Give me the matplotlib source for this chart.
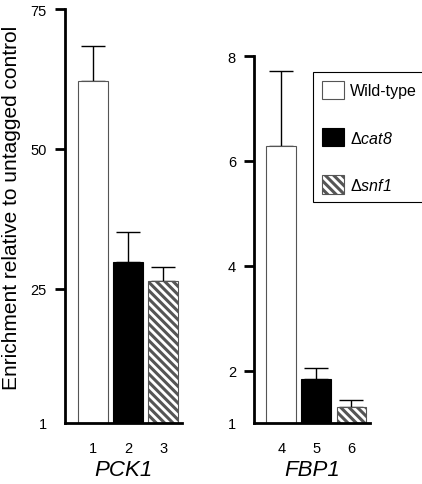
import numpy as np
import matplotlib
matplotlib.use('Agg')
import matplotlib.pyplot as plt
from matplotlib.patches import Patch

plt.rcParams['font.family'] = 'Liberation Sans'
plt.rcParams['mathtext.fontset'] = 'custom'
plt.rcParams['mathtext.rm'] = 'Liberation Sans'
plt.rcParams['mathtext.sf'] = 'Liberation Sans:italic'  # italic digits too
plt.rcParams['hatch.linewidth'] = 2.2

# data
pck1_pos = [1, 2, 3]
pck1_vals = [62.1, 29.7, 26.3]
pck1_err = [6.3, 5.5, 2.6]

fbp1_pos = [1, 2, 3]
fbp1_vals = [6.29, 1.84, 1.30]
fbp1_err = [1.43, 0.21, 0.13]

pck1_ticklabels = ['1', '2', '3']
fbp1_ticklabels = ['4', '5', '6']
pck1_yticks = [1, 25, 50, 75]
fbp1_yticks = [1, 2, 4, 6, 8]

labels = ['Wild-type', r'$\Delta\mathsf{cat8}$', r'$\Delta\mathsf{snf1}$']
faces = ['white', 'black', 'white']
edges = ['#555555', 'black', '#555555']
hatches = ['', '', '\\\\\\\\']

fig = plt.figure(figsize=(4.22, 4.85), dpi=100)
ax1 = fig.add_axes([65/422, 1-424/485, 117/422, 414/485])
ax2 = fig.add_axes([254/422, 1-424/485, 116/422, 367/485])


def draw(ax, pos, vals, err, ticklabels, yticks, ylim, gene):
    for i in range(3):
        ax.bar(pos[i], vals[i] - ylim[0], bottom=ylim[0], width=0.85,
               color=faces[i], edgecolor=edges[i], linewidth=0.8,
               hatch=hatches[i], zorder=2)
    ax.errorbar(pos, vals, yerr=[np.zeros(3), err], fmt='none',
                ecolor='black', elinewidth=1.0, capsize=8.3, capthick=1.0,
                zorder=1)
    ax.set_xlim(0.22, 3.53)
    ax.set_ylim(*ylim)
    ax.set_xticks(pos)
    ax.set_xticklabels(ticklabels, fontsize=10.5)
    ax.tick_params(axis='x', length=0, pad=13)
    ax.set_yticks(yticks)
    ax.set_yticklabels([str(t) for t in yticks], fontsize=10.5)
    ax.tick_params(axis='y', length=7, width=2, direction='out', pad=6)
    ax.yaxis.get_major_ticks()[0].tick1line.set_visible(False)
    for s in ['top', 'right']:
        ax.spines[s].set_visible(False)
    for s in ['left', 'bottom']:
        ax.spines[s].set_linewidth(2)
    ax.set_xlabel(gene, fontsize=16, style='italic', labelpad=3)


draw(ax1, pck1_pos, pck1_vals, pck1_err, pck1_ticklabels, pck1_yticks, (1, 75), 'PCK1')
draw(ax2, fbp1_pos, fbp1_vals, fbp1_err, fbp1_ticklabels, fbp1_yticks, (1, 8), 'FBP1')

fig.text(12/422, 1-208/485, 'Enrichment relative to untagged control',
         rotation=90, fontsize=15, ha='center', va='center')

handles = [Patch(facecolor=faces[i], edgecolor=edges[i], hatch=hatches[i], linewidth=0.8)
           for i in range(3)]
leg = fig.legend(handles, labels, loc='upper left',
                 bbox_to_anchor=(313/422, 1-73/485), bbox_transform=fig.transFigure,
                 fontsize=11.5, handlelength=1.4, handleheight=1.4,
                 handletextpad=0.35, labelspacing=1.8, borderpad=0.55,
                 borderaxespad=0, fancybox=False, framealpha=1)
leg.get_frame().set_edgecolor('black')
leg.get_frame().set_linewidth(0.8)

fig.savefig('out.png', dpi=100)
